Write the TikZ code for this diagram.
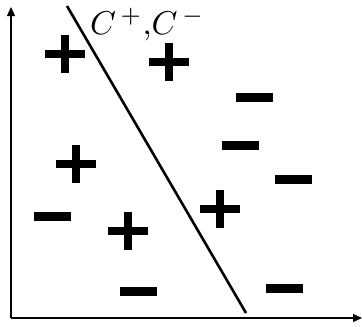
\documentclass[tikz,border=0pt]{standalone}
\usetikzlibrary{arrows.meta}
\begin{document}
\begin{tikzpicture}[x=1pt,y=-1pt,
  axisline/.style={line width=1.3pt,-{Triangle[length=9pt,width=8pt]}},
  sepline/.style={line width=2.6pt},
  plusmark/.pic={\fill (-20,-4) rectangle (20,4); \fill (-4,-19) rectangle (4,19);},
  minusmark/.pic={\fill (-18.5,-4.5) rectangle (18.5,4.5);}]
\useasboundingbox (0,0) rectangle (362,327);
\coordinate (O) at (11,318);
\coordinate (ytip) at (11,7);
\coordinate (xtip) at (362,318);
\draw[axisline] (O) -- (ytip);
\draw[axisline] (O) -- (xtip);
\coordinate (s1) at (67,6);
\coordinate (s2) at (246,313);
\draw[sepline] (s1) -- (s2);
\node[anchor=base west,inner sep=0pt] (lab) at (90,34) {\scalebox{3.3}{$C^{\,+}$,$C^{\,-}$}};
\pic at (65,54) {plusmark};
\pic at (169,62) {plusmark};
\pic at (76,164) {plusmark};
\pic at (128,231) {plusmark};
\pic at (220,209) {plusmark};
\pic at (254,97) {minusmark};
\pic at (240,145) {minusmark};
\pic at (293,179) {minusmark};
\pic at (52,216) {minusmark};
\pic at (138,291) {minusmark};
\pic at (284,288) {minusmark};
\end{tikzpicture}
\end{document}
